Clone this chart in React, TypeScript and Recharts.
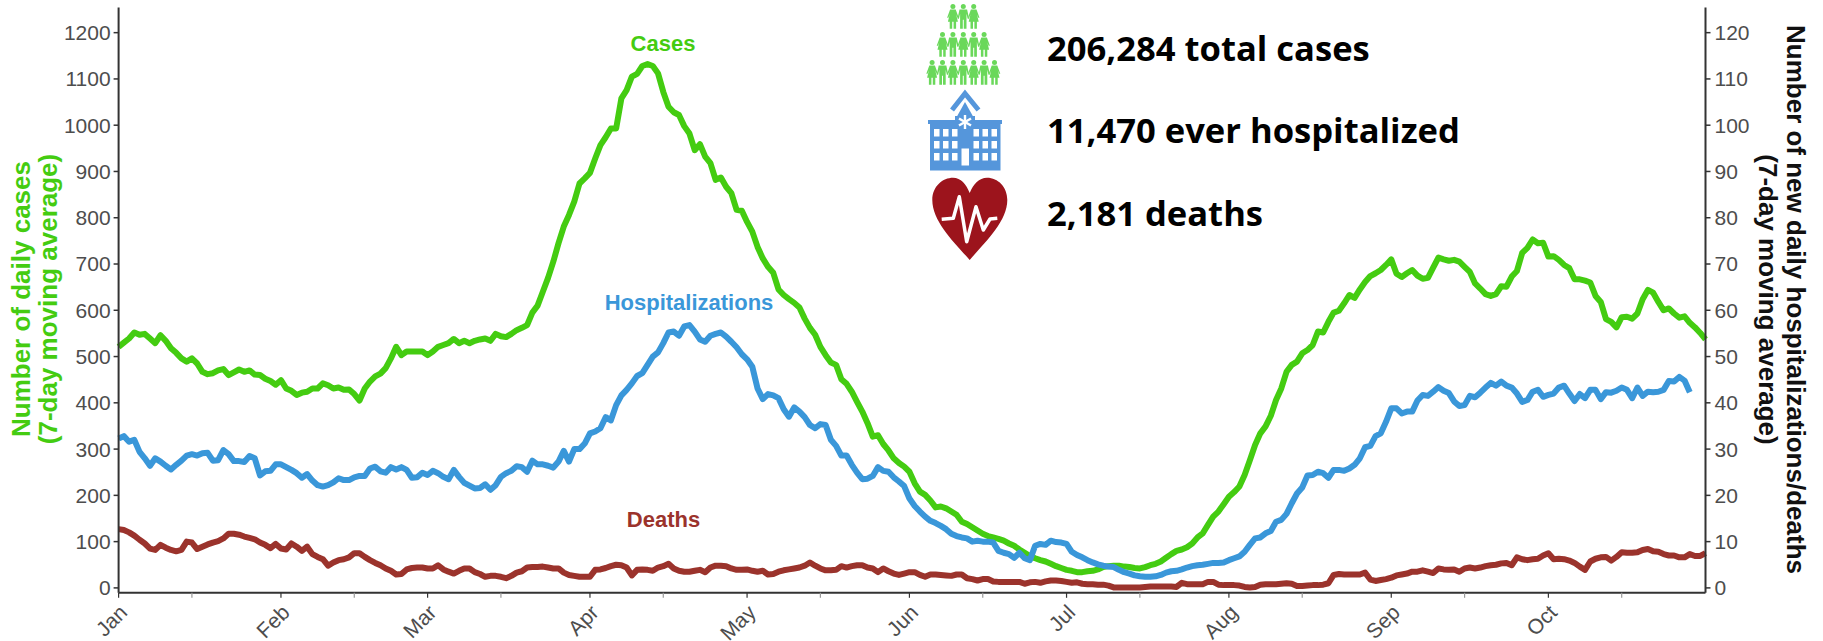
import React from 'react';
import { ComposedChart, Line, XAxis, YAxis } from 'recharts';

// one value per day from Jan 1
const CASES = [
  521, 530, 539, 552, 547, 549, 539, 529, 546, 534,
  518, 508, 496, 489, 496, 485, 467, 462, 464, 470,
  473, 460, 466, 472, 467, 470, 461, 460, 452, 447,
  439, 449, 431, 426, 417, 422, 424, 431, 431, 442,
  438, 431, 433, 428, 429, 419, 405, 431, 446, 457,
  463, 475, 496, 521, 503, 511, 511, 511, 511, 503,
  511, 521, 525, 529, 538, 529, 534, 529, 534, 537,
  539, 534, 549, 544, 542, 549, 557, 562, 568, 595,
  610, 640, 670, 705, 745, 781, 806, 835, 874, 885,
  897, 928, 957, 974, 993, 993, 1058, 1076, 1105, 1111,
  1128, 1132, 1128, 1112, 1072, 1040, 1028, 1022, 998, 982,
  946, 959, 932, 918, 882, 887, 867, 853, 817, 815,
  791, 770, 737, 712, 694, 681, 645, 633, 624, 616,
  606, 582, 562, 547, 521, 503, 487, 482, 451, 441,
  424, 402, 381, 356, 327, 330, 311, 297, 280, 270,
  262, 251, 226, 208, 201, 189, 174, 176, 172, 165,
  158, 143, 138, 131, 124, 117, 112, 109, 106, 102,
  96, 91, 83, 76, 69, 64, 60, 57, 52, 47,
  43, 39, 37, 34, 34, 36, 37, 40, 45, 47,
  48, 48, 46, 45, 43, 42, 45, 49, 52, 57,
  65, 73, 80, 83, 88, 96, 109, 118, 136, 154,
  165, 181, 197, 207, 219, 244, 276, 309, 334, 349,
  372, 406, 431, 467, 482, 489, 507, 514, 525, 554,
  552, 575, 595, 599, 615, 633, 627, 645, 661, 674,
  680, 687, 698, 710, 679, 672, 680, 687, 675, 668,
  670, 692, 714, 710, 707, 709, 705, 694, 683, 658,
  647, 635, 631, 635, 652, 651, 673, 685, 724, 735,
  753, 745, 746, 716, 717, 709, 698, 691, 667, 667,
  664, 660, 631, 618, 581, 575, 563, 585, 586, 582,
  593, 624, 644, 638, 618, 600, 604, 593, 584, 587,
  573, 563, 551, 537,
];

const HOSPITALIZATIONS = [
  32.3, 32.8, 31.6, 32, 29.4, 28, 26.4, 28, 27.3, 26.4,
  25.6, 26.6, 27.5, 28.6, 28.9, 28.6, 29.1, 29.2, 27.5, 27.6,
  29.8, 28.9, 27.4, 27.4, 27.2, 28.5, 28, 24.3, 25.2, 25.3,
  26.7, 26.7, 26.1, 25.5, 24.8, 23.8, 24.6, 23.2, 22.2, 21.9,
  22.2, 22.8, 23.7, 23.3, 23.3, 23.9, 24.2, 24.2, 25.8, 26.2,
  25.2, 24.9, 26.1, 25.6, 26.1, 25.5, 23.8, 23.9, 24.9, 24.4,
  25.3, 24.8, 24, 23.5, 25.5, 24, 22.7, 22.1, 21.5, 21.6,
  22.4, 21.2, 22.2, 24, 24.8, 25.3, 26.3, 26.1, 25.1, 27.5,
  26.7, 26.7, 26.4, 26, 27.3, 29.6, 27.3, 30, 30, 31.2,
  33.4, 33.8, 34.5, 36.9, 36.2, 39.5, 41.6, 42.8, 44.2, 45.8,
  46.4, 48.2, 50, 50.9, 52.9, 55.2, 55.4, 54.5, 56.5, 56.8,
  55.4, 53.7, 53.2, 54.5, 54.9, 55.2, 54.3, 53.2, 52, 50.5,
  49.4, 47.8, 43.1, 40.8, 41.9, 41.6, 41, 38.6, 37, 39,
  38.1, 36.9, 35.2, 34.5, 35.4, 35.2, 32, 30.7, 28.6, 28.6,
  26.6, 24.9, 23.5, 23.6, 24.2, 26.1, 25.3, 25.1, 23.9, 23,
  22, 19.3, 17.7, 16.5, 15.4, 14.5, 14, 13.4, 12.7, 11.7,
  11.2, 10.9, 10.7, 10, 10.2, 10, 10, 9.8, 8, 7.6,
  7.3, 6.5, 7.6, 6.4, 6, 9.1, 9.5, 9.3, 10.2, 9.9,
  9.8, 9.5, 7.8, 7.1, 6.6, 6, 5.5, 5.1, 4.8, 4.6,
  4.5, 3.9, 3.4, 3.1, 2.7, 2.5, 2.4, 2.4, 2.5, 2.8,
  3.3, 3.6, 3.7, 4, 4.4, 4.7, 4.9, 5, 5.2, 5.4,
  5.4, 5.5, 6, 6.4, 6.8, 7.8, 9.3, 10.7, 10.9, 11.8,
  12.3, 14.3, 14.7, 16, 18.3, 20.4, 21.7, 24.3, 24.4, 25.1,
  24.8, 23.8, 25.5, 25.5, 25.3, 25.8, 26.6, 28, 30.4, 30.7,
  32.8, 33.4, 35.9, 38.8, 38.8, 37.7, 38.1, 38.1, 40.5, 41.7,
  41.5, 42.4, 43.4, 42.6, 42.1, 40.3, 39.3, 39.5, 41.5, 41.2,
  42.2, 43.3, 44.3, 43.7, 44.6, 43.7, 43.3, 42, 40.2, 40.6,
  42.4, 42.8, 41.3, 41.7, 42, 43.3, 43.7, 42, 40.4, 41.9,
  41, 42.8, 42.8, 40.8, 42.3, 42.2, 42.6, 43.3, 42.8, 41,
  43.3, 41.5, 42.4, 42.3, 42.4, 42.8, 44.7, 44.6, 45.6, 44.8,
  42.3,
];

const DEATHS = [
  12.7, 12.5, 12, 11.3, 10.4, 9.6, 8.5, 8.2, 9.3, 8.7,
  8.2, 7.9, 8.2, 10, 9.8, 8.4, 8.9, 9.4, 9.8, 10.1,
  10.7, 11.7, 11.7, 11.5, 11.1, 10.8, 10.5, 9.8, 9.3, 8.6,
  9.5, 8.5, 8.3, 9.6, 8.9, 8, 8.9, 7.3, 6.7, 6.2,
  4.8, 5.5, 6, 6.2, 6.6, 7.5, 7.5, 6.7, 6, 5.4,
  4.9, 4.2, 3.7, 2.9, 3, 4, 4.3, 4.4, 4.4, 4.2,
  4.2, 4.9, 4, 3.5, 3.1, 3.7, 4.2, 4.2, 3.4, 3,
  2.4, 2.6, 2.6, 2.4, 2.1, 2.6, 3.3, 3.6, 4.4, 4.5,
  4.5, 4.6, 4.4, 4.2, 4.2, 3.3, 2.8, 2.6, 2.4, 2.4,
  2.4, 3.9, 4, 4.3, 4.7, 5, 4.9, 4.4, 2.7, 3.9,
  4, 3.9, 3.7, 4.4, 4.7, 5.2, 4.2, 3.7, 3.5, 3.5,
  3.7, 3.9, 3.4, 4.4, 4.8, 4.8, 4.7, 4.2, 3.9, 3.9,
  4, 3.7, 3.5, 3.7, 2.9, 3, 3.5, 3.8, 4, 4.2,
  4.4, 4.8, 5.5, 4.8, 4.2, 3.8, 3.8, 3.9, 4.7, 4.4,
  4.7, 4.9, 4.9, 4.4, 4.2, 3.4, 4.2, 3.6, 3.1, 2.8,
  3.1, 3.4, 3.4, 2.8, 2.4, 2.9, 2.9, 2.8, 2.7, 2.6,
  2.9, 2.9, 2.1, 1.9, 1.6, 1.9, 1.9, 1.4, 1.3, 1.3,
  1.3, 1.3, 1.3, 0.9, 1.2, 1.3, 1.1, 1.4, 1.6, 1.6,
  1.5, 1.3, 1.1, 1.2, 0.9, 0.8, 0.8, 0.7, 0.7, 0.5,
  0.1, 0.1, 0.1, 0.1, 0.1, 0.1, 0.2, 0.3, 0.3, 0.3,
  0.3, 0.3, 0.2, 1.1, 0.8, 0.8, 0.8, 0.8, 1.3, 1.3,
  0.7, 0.6, 0.6, 0.6, 0.5, 0.2, 0.1, 0.2, 0.7, 0.8,
  0.8, 0.8, 0.9, 1, 0.9, 0.4, 0.4, 0.5, 0.6, 0.6,
  0.7, 1, 2.8, 3, 2.9, 2.9, 2.9, 2.9, 3.3, 1.8,
  1.5, 1.7, 1.9, 2.2, 2.7, 2.9, 3.1, 3.5, 3.5, 3.8,
  3.5, 3.2, 4.2, 4, 3.9, 4, 3.5, 4.2, 4.4, 4.2,
  4.4, 4.7, 4.9, 5, 5.3, 5.4, 4.9, 6.6, 6.2, 6,
  6.2, 6.3, 7, 7.5, 6.2, 6.3, 6.2, 5.9, 5.4, 4.6,
  3.9, 5.7, 6.3, 6.6, 6.7, 5.9, 6.7, 7.7, 7.6, 7.6,
  7.7, 8.2, 8.4, 7.9, 7.8, 7.3, 7, 7, 6.6, 6.6,
  7.3, 6.9, 6.9, 7.5,
];

const LEFT_TICKS = [0, 100, 200, 300, 400, 500, 600, 700, 800, 900, 1000, 1100, 1200];
const RIGHT_TICKS = [0, 10, 20, 30, 40, 50, 60, 70, 80, 90, 100, 110, 120];
const X_TICK_DAYS = [0, 14, 31, 45, 59, 73, 90, 104, 120, 134, 151, 165, 181, 195, 212, 226, 243, 257, 273, 287];
const X_TICK_LABELS = ['Jan', '', 'Feb', '', 'Mar', '', 'Apr', '', 'May', '', 'Jun', '', 'Jul', '', 'Aug', '', 'Sep', '', 'Oct', ''];

const STATS = ['206,284 total cases', '11,470 ever hospitalized', '2,181 deaths'];

const GREEN = '#44CC11';
const BLUE = '#3A97D9';
const RED = '#9B332C';
const FONT = '"Liberation Sans", Arial, sans-serif';

const chartData = CASES.map((cases, day) => ({
  day,
  cases,
  hospitalizations: HOSPITALIZATIONS[day],
  deaths: DEATHS[day],
}));

const MonthTick = ({ x, y, payload }: any) => {
  const label = X_TICK_LABELS[X_TICK_DAYS.indexOf(payload.value)];
  return (
    <g>
      <line x1={x} x2={x} y1={y} y2={y + 5} stroke={label ? '#333' : '#999'} strokeWidth={1.2} />
      {label ? (
        <text
          x={x + 10}
          y={y + 21}
          fill="#4d4d4d"
          fontSize={21}
          fontFamily={FONT}
          textAnchor="end"
          transform={`rotate(-45 ${x + 10} ${y + 21})`}
        >
          {label}
        </text>
      ) : null}
    </g>
  );
};

const MAN = 'M-3.8 5.3H3.8L5.8 14.5H4.4L3.2 9.5V24.5H.5V15.5H-.5V24.5H-3.2V9.5L-4.4 14.5H-5.8Z';
const WOMAN = 'M-2.8 5.3H2.8L5.8 13.5H4.5L3.2 10L5 17.5H3.2V24.5H.7V17.5H-.7V24.5H-3.2V17.5H-5L-3.2 10L-4.5 13.5H-5.8Z';

const Person = ({ x, y, woman }: { x: number; y: number; woman: boolean }) => (
  <g transform={`translate(${x} ${y})`} fill="#6AD85A">
    <circle cx={0} cy={2.3} r={2.5} />
    <path d={woman ? WOMAN : MAN} />
  </g>
);

const PeopleIcon = () => {
  const rows = [
    { y: 4.2, count: 3 },
    { y: 32.2, count: 5 },
    { y: 60.2, count: 7 },
  ];
  return (
    <g>
      {rows.map(row =>
        Array.from({ length: row.count }, (_, i) => {
          const offset = i - (row.count - 1) / 2;
          return (
            <Person
              key={`${row.y}-${i}`}
              x={963.3 + offset * 10.4}
              y={row.y}
              woman={Math.abs(offset) % 2 === (row.count === 5 ? 0 : 1)}
            />
          );
        })
      )}
    </g>
  );
};

const HospitalIcon = () => {
  const cols = [934, 943, 952, 973.5, 982.5, 991.5];
  const rows = [129, 141, 153];
  return (
    <g>
      <polyline points="952,110 965,93.5 978.5,110" fill="none" stroke="#5596DB" strokeWidth={5} />
      <path d="M955 120L965 102L975 120Z" fill="#5596DB" />
      <rect x={928} y={120} width={74} height={4} fill="#5596DB" />
      <rect x={930} y={123} width={70.5} height={47.5} fill="#5596DB" />
      <path d="M955 116H975V124H955Z" fill="#5596DB" />
      {rows.map(r =>
        cols.map(c => <rect key={`${r}-${c}`} x={c} y={r} width={5.5} height={7.5} fill="#fff" />)
      )}
      <rect x={961.5} y={148.5} width={7.5} height={17} fill="#fff" />
      <g stroke="#fff" strokeWidth={2.4}>
        <line x1={965} y1={115} x2={965} y2={129} />
        <line x1={959} y1={118.5} x2={971} y2={125.5} />
        <line x1={959} y1={125.5} x2={971} y2={118.5} />
      </g>
    </g>
  );
};

const HeartIcon = () => (
  <g>
    <path
      d="M969.7 260C955 243 932.3 222 932.3 200C932.3 186 943 177.7 953 177.7C961 177.7 966 184 969.7 193C973.5 184 979 177.7 987 177.7C998 177.7 1007.3 187 1007.3 200C1007.3 222 984 243 969.7 260Z"
      fill="#9C141C"
    />
    <polyline
      points="941.7,219.3 953.3,218.3 959.3,196.7 966.7,241.7 976,206.7 983.3,230 990,219 997.3,218.3"
      fill="none"
      stroke="#fff"
      strokeWidth={3.5}
      strokeLinejoin="round"
    />
  </g>
);

const Annotations = () => (
  <svg width={1823} height={641} style={{ position: 'absolute', left: 0, top: 0 }}>
    <g fontFamily={FONT} fontWeight="bold" fontSize={22} textAnchor="middle">
      <text x={663} y={51} fill={GREEN}>Cases</text>
      <text x={689} y={310} fill={BLUE}>Hospitalizations</text>
      <text x={663.5} y={527} fill={RED}>Deaths</text>
    </g>
    <g fontFamily={FONT} fontWeight="bold" fontSize={26} textAnchor="middle">
      <g transform="translate(29.5 299) rotate(-90)" fill={GREEN}>
        <text x={0} y={0}>Number of daily cases</text>
        <text x={0} y={27.5}>(7-day moving average)</text>
      </g>
      <g transform="translate(1786.5 299.5) rotate(90)" fill="#111">
        <text x={0} y={0}>Number of new daily hospitalizations/deaths</text>
        <text x={0} y={27.5}>(7-day moving average)</text>
      </g>
    </g>
    <g fontFamily='"Open Sans", sans-serif' fontWeight="bold" fontSize={34.6} fill="#000">
      {STATS.map((stat, i) => (
        <text key={stat} x={1047} y={60.5 + i * 82.7}>{stat}</text>
      ))}
    </g>
    <PeopleIcon />
    <HospitalIcon />
    <HeartIcon />
  </svg>
);

export default function App() {
  const tickStyle = { fill: '#4d4d4d', fontSize: 21, fontFamily: FONT };
  const axisLine = { stroke: '#333', strokeWidth: 2 };
  return (
    <div style={{ position: 'absolute', left: 0, top: 0, width: 1823, height: 641, background: '#fff' }}>
      <ComposedChart
        width={1823}
        height={641}
        data={chartData}
        margin={{ top: 7.4, right: 0, bottom: 0, left: 0 }}
      >
        <XAxis
          dataKey="day"
          type="number"
          domain={[0, 303]}
          ticks={X_TICK_DAYS}
          interval={0}
          height={48.2}
          axisLine={axisLine}
          tickLine={false}
          tickSize={0}
          tickMargin={0}
          tick={MonthTick}
        />
        <YAxis
          yAxisId="left"
          width={118.6}
          domain={[-10.6, 1254.6]}
          allowDataOverflow
          ticks={LEFT_TICKS}
          interval={0}
          axisLine={axisLine}
          tickLine={{ stroke: '#333', strokeWidth: 1.5 }}
          tickSize={5}
          tickMargin={3}
          tick={tickStyle}
        />
        <YAxis
          yAxisId="right"
          orientation="right"
          width={117.5}
          domain={[-1.06, 125.46]}
          allowDataOverflow
          ticks={RIGHT_TICKS}
          interval={0}
          axisLine={axisLine}
          tickLine={{ stroke: '#333', strokeWidth: 1.5 }}
          tickSize={5}
          tickMargin={4}
          tick={tickStyle}
        />
        <Line yAxisId="left" dataKey="cases" stroke={GREEN} strokeWidth={6} dot={false} strokeLinejoin="round" isAnimationActive={false} />
        <Line yAxisId="right" dataKey="hospitalizations" stroke={BLUE} strokeWidth={6} dot={false} strokeLinejoin="round" isAnimationActive={false} />
        <Line yAxisId="right" dataKey="deaths" stroke={RED} strokeWidth={6} dot={false} strokeLinejoin="round" isAnimationActive={false} />
      </ComposedChart>
      <Annotations />
    </div>
  );
}
